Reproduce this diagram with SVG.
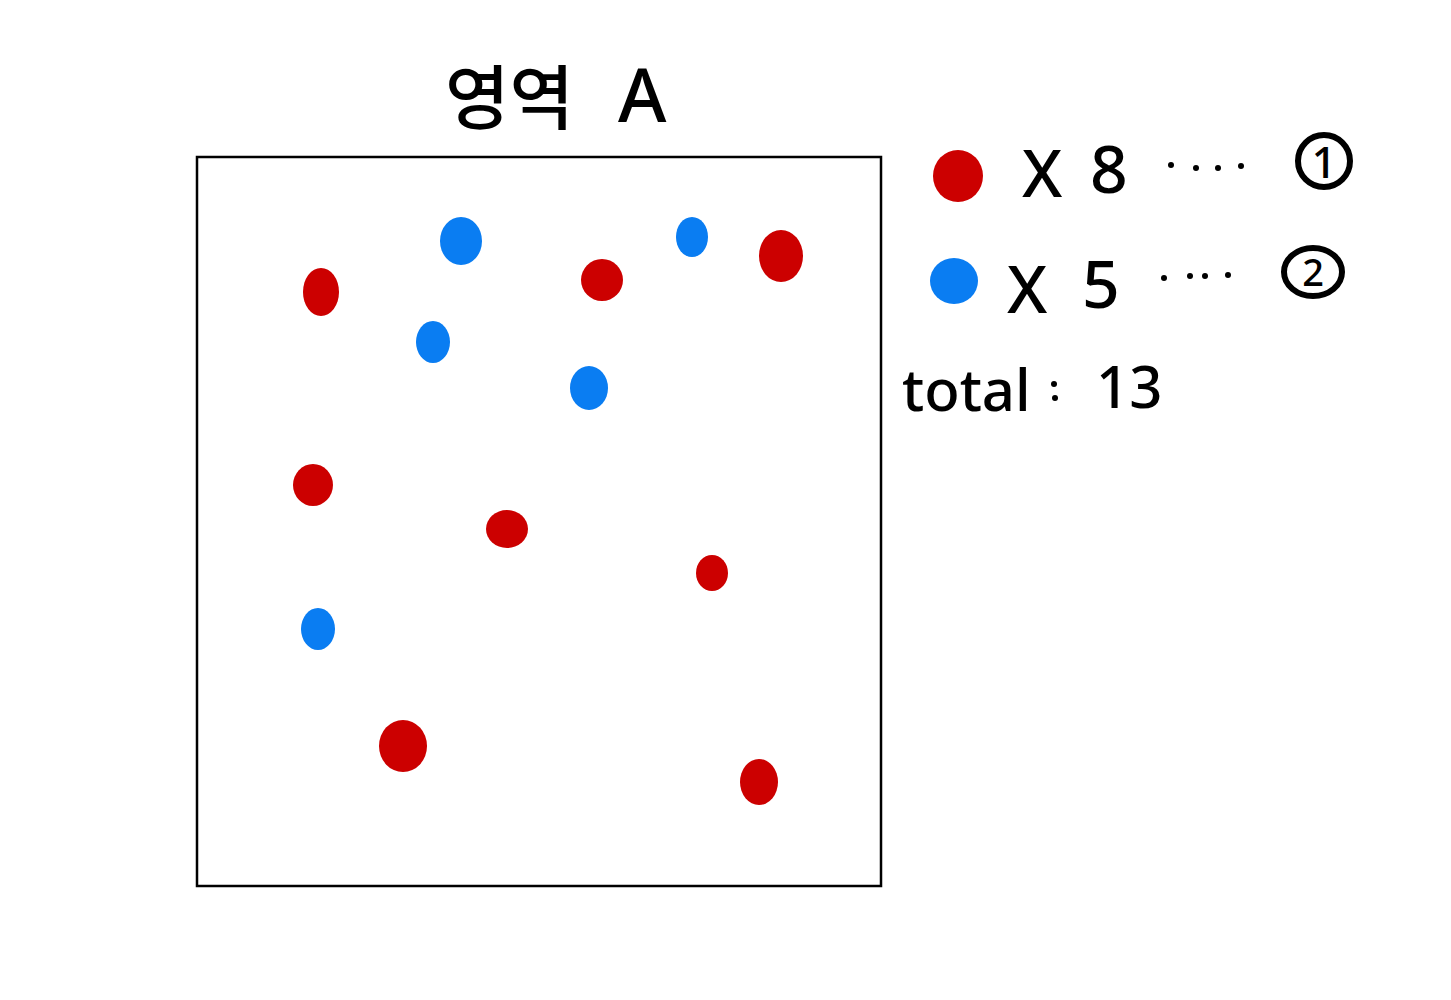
<svg xmlns="http://www.w3.org/2000/svg" width="1451" height="1000" viewBox="0 0 1451 1000">
<style>
.r{fill:#CC0000}
.b{fill:#0A7DF2}
.t{font-family:"Noto Sans","Noto Sans CJK KR",sans-serif;fill:#000;font-weight:500}
.d{fill:#000}
</style>
<rect width="1451" height="1000" fill="#fff"/>
<g id="title">
<text class="t" x="445" y="124" font-size="70">영역</text>
<text class="t" x="618" y="122" font-size="74">A</text>
</g>
<g id="area">
<rect x="197" y="157" width="684" height="729" fill="none" stroke="#000" stroke-width="2.5"/>
</g>
<g id="red-dots">
<ellipse class="r" cx="321" cy="292" rx="18" ry="24"/>
<ellipse class="r" cx="602" cy="280" rx="21" ry="21"/>
<ellipse class="r" cx="781" cy="256" rx="22" ry="26"/>
<ellipse class="r" cx="313" cy="485" rx="20" ry="21"/>
<ellipse class="r" cx="507" cy="529" rx="21" ry="19"/>
<ellipse class="r" cx="712" cy="573" rx="16" ry="18"/>
<ellipse class="r" cx="403" cy="746" rx="24" ry="26"/>
<ellipse class="r" cx="759" cy="782" rx="19" ry="23"/>
</g>
<g id="blue-dots">
<ellipse class="b" cx="461" cy="241" rx="21" ry="24"/>
<ellipse class="b" cx="692" cy="237" rx="16" ry="20"/>
<ellipse class="b" cx="433" cy="342" rx="17" ry="21"/>
<ellipse class="b" cx="589" cy="388" rx="19" ry="22"/>
<ellipse class="b" cx="318" cy="629" rx="17" ry="21"/>
</g>
<g id="legend-red">
<ellipse class="r" cx="958" cy="176" rx="25" ry="26"/>
<text class="t" x="1022" y="197" font-size="66">X</text>
<text class="t" x="1090" y="193" font-size="66">8</text>
<circle class="d" cx="1171" cy="165" r="3"/>
<circle class="d" cx="1196" cy="168" r="3"/>
<circle class="d" cx="1218" cy="168" r="3"/>
<circle class="d" cx="1241" cy="166" r="3"/>
<circle cx="1324" cy="161" r="26" fill="none" stroke="#000" stroke-width="6"/>
<text class="t" x="1324" y="178" font-size="44" font-weight="700" text-anchor="middle">1</text>
</g>
<g id="legend-blue">
<ellipse class="b" cx="954" cy="281" rx="24" ry="23"/>
<text class="t" x="1007" y="313" font-size="66">X</text>
<text class="t" x="1082" y="308" font-size="66">5</text>
<circle class="d" cx="1164" cy="278" r="3"/>
<circle class="d" cx="1190" cy="276" r="3"/>
<circle class="d" cx="1205" cy="276" r="3"/>
<circle class="d" cx="1228" cy="275" r="3"/>
<ellipse cx="1313" cy="272" rx="29" ry="24" fill="none" stroke="#000" stroke-width="6"/>
<text class="t" x="1313" y="286" font-size="38" font-weight="700" text-anchor="middle">2</text>
</g>
<g id="total">
<text class="t" x="902" y="411" font-size="58">total</text>
<circle class="d" cx="1054" cy="384" r="3"/>
<circle class="d" cx="1055" cy="398" r="3"/>
<text class="t" x="1096" y="408" font-size="58">13</text>
</g>
</svg>
